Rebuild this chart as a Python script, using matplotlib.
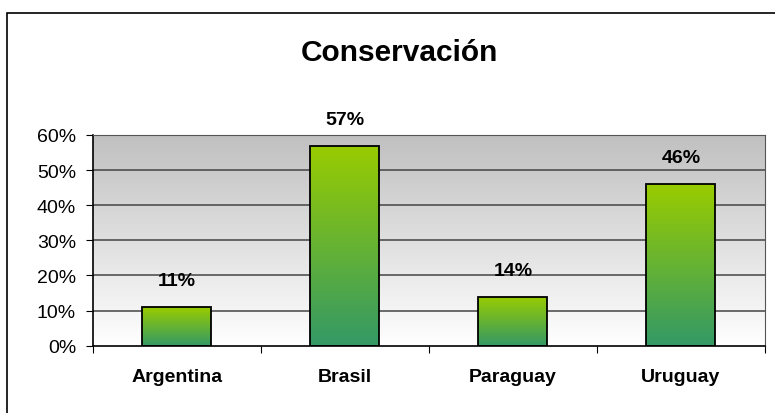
import matplotlib
matplotlib.use("Agg")
import matplotlib.pyplot as plt
import numpy as np
from matplotlib.colors import LinearSegmentedColormap
from matplotlib.patches import Rectangle

plt.rcParams['font.family'] = ['Liberation Sans', 'DejaVu Sans']

countries = ['Argentina', 'Brasil', 'Paraguay', 'Uruguay']
values = [11, 57, 14, 46]
y_ticks = [0, 10, 20, 30, 40, 50, 60]

fig = plt.figure(figsize=(7.75, 4.14), dpi=100)
ax = fig.add_axes([0.1196, 0.1626, 0.987 - 0.1196, 0.6715 - 0.1626])

x = np.arange(len(countries))
ax.set_xlim(-0.5, len(countries) - 0.5)
ax.set_ylim(0, 60)

# plot-area background: grey at top fading to white
bg = LinearSegmentedColormap.from_list('bg', ['#ffffff', '#c0c0c0'])
grad = np.linspace(0, 1, 256).reshape(-1, 1)
ax.imshow(grad, cmap=bg, aspect='auto', origin='lower',
          extent=[-0.5, len(countries) - 0.5, 0, 60], zorder=0)

for t in y_ticks[1:]:
    ax.axhline(t, color='#444444', lw=1.1, zorder=1)

# bars with green gradient
barcm = LinearSegmentedColormap.from_list('bar', ['#339966', '#99cc00'])
bars = ax.bar(x, values, width=0.41, facecolor='none', edgecolor='black',
              lw=1.3, zorder=3)
for b, v in zip(bars, values):
    x0 = b.get_x()
    im = ax.imshow(grad, cmap=barcm, aspect='auto', origin='lower',
                   extent=[x0, x0 + b.get_width(), 0, v], zorder=2)
    im.set_clip_path(b)
    ax.annotate(f'{v}%', (b.get_x() + b.get_width() / 2, v),
                xytext=(0, 19), textcoords='offset points', ha='center',
                va='center', fontsize=14, fontweight='bold')

ax.set_yticks(y_ticks)
ax.set_yticklabels([f'{t}%' for t in y_ticks], fontsize=14)
ax.set_xticks(np.arange(-0.5, len(countries), 1.0))
ax.set_xticklabels([])
ax.set_xticks(x, minor=True)
ax.set_xticklabels(countries, minor=True, fontsize=14, fontweight='bold')
ax.tick_params(axis='x', which='minor', length=0, pad=16)
ax.tick_params(axis='x', which='major', length=5, direction='out')
ax.tick_params(axis='y', length=5, direction='out', pad=7)

for s in ['top', 'right']:
    ax.spines[s].set_color('#555555')
for s in ['left', 'bottom']:
    ax.spines[s].set_color('black')
    ax.spines[s].set_linewidth(1.2)

fig.text(0.515, 1 - 53 / 414, 'Conservación', ha='center', va='center',
         fontsize=21.5, fontweight='bold')

# chart frame
fig.patches.append(Rectangle((7 / 775, -0.1), 1.2, 1 - 14 / 414 + 0.1,
                             transform=fig.transFigure, fill=False,
                             edgecolor='black', lw=1.2))

fig.savefig('out.png', dpi=100)
